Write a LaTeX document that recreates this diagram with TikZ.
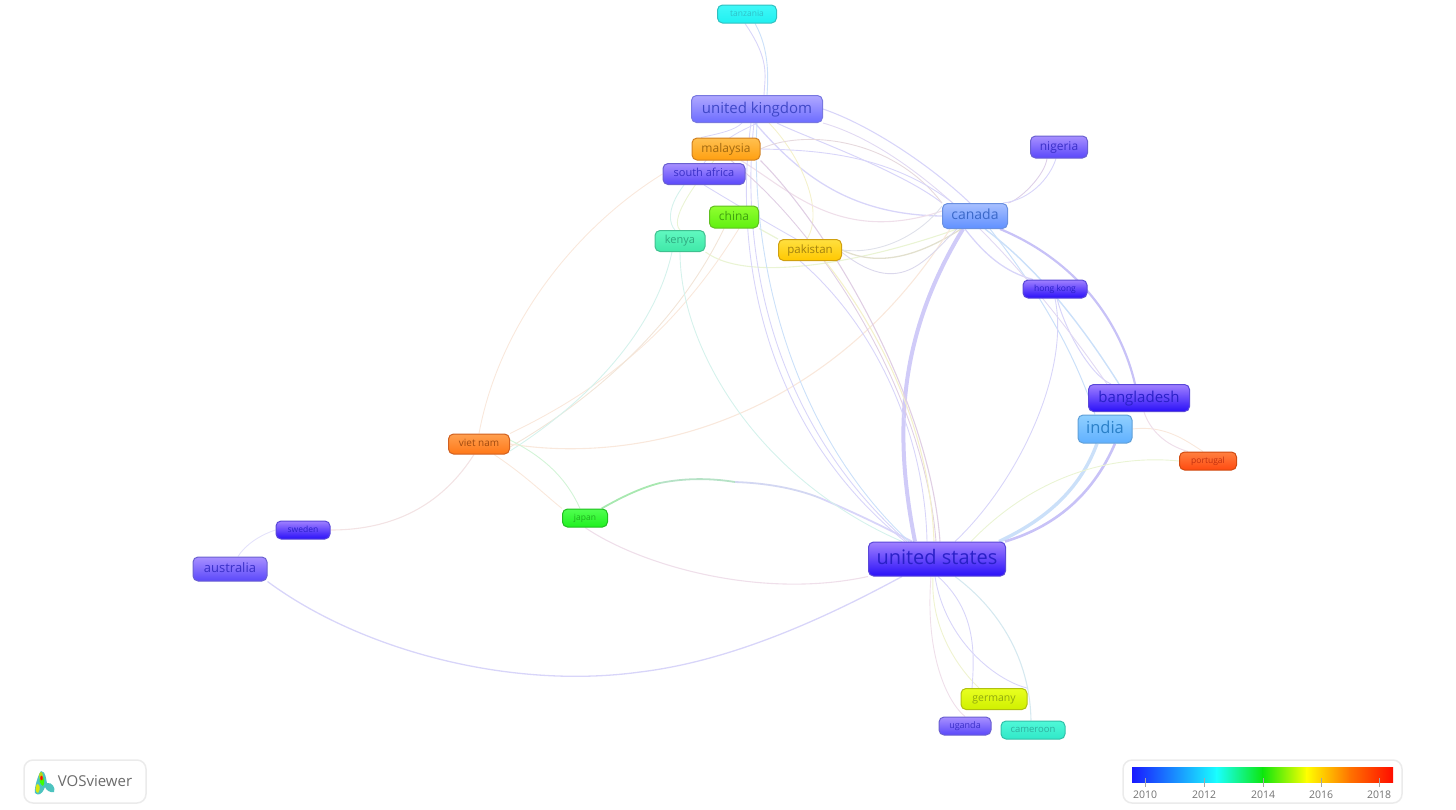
\documentclass[tikz,border=0pt]{standalone}
\usepackage{fontspec}
\setmainfont{Open Sans}
\usetikzlibrary{backgrounds,calc}
\newcommand{\vfamdef}[5]{%
  \definecolor{#1T}{HTML}{#2}\definecolor{#1B}{HTML}{#3}\definecolor{#1D}{HTML}{#4}\definecolor{#1X}{HTML}{#5}}
\vfamdef{deep}{A080FF}{2A10F8}{5A48D8}{2A20C8}
\vfamdef{vio}{A890FF}{5A48FA}{6A60D0}{3A30C8}
\vfamdef{uk}{B0A8FF}{6C6CFF}{7878E0}{4048C8}
\vfamdef{can}{A8C0FF}{6090FF}{6A90E0}{3A68C8}
\vfamdef{ind}{90D0FF}{60B0FF}{60A0D8}{2A80C8}
\vfamdef{tan}{40F8F8}{20F0F0}{30C0C0}{30C0C8}
\vfamdef{cam}{50F8D8}{30E8C8}{30C0A8}{30B0A0}
\vfamdef{ken}{60F8C0}{40E8A8}{40C090}{30A880}
\vfamdef{chi}{90FF30}{60F010}{60C020}{40A010}
\vfamdef{jap}{50FF50}{20F020}{20C020}{20B020}
\vfamdef{ger}{E8FF20}{D0F000}{B0C010}{90A810}
\vfamdef{pak}{FFE040}{FFC800}{D0A010}{A08010}
\vfamdef{mal}{FFC050}{FF9F10}{D08020}{A06810}
\vfamdef{vie}{FFA050}{FF7818}{D06020}{A04A10}
\vfamdef{por}{FF8040}{FF4A10}{D04A10}{C03010}
\definecolor{lil}{HTML}{D8D5F9}
\definecolor{lilb}{HTML}{C8C2F7}
\definecolor{lblue}{HTML}{CBE0F9}
\definecolor{pinkl}{HTML}{EFDFEA}
\definecolor{peach}{HTML}{F9E8DC}
\definecolor{teall}{HTML}{D5F2EC}
\definecolor{yell}{HTML}{F4F1CC}
\definecolor{gyell}{HTML}{EAF4D4}
\definecolor{olive}{HTML}{E2E0CE}
\definecolor{mauve}{HTML}{E0CFE4}
\definecolor{grnl}{HTML}{A8E8B0}
\tikzset{
  vbox/.style={rounded corners=5pt,inner sep=0pt,line width=1pt},
  lnk/.style={line width=0.9pt,lil},
  lnkm/.style={line width=1.3pt,lil},
  lnkw/.style={line width=2.4pt,lilb},
  legendbox/.style={draw=black!8,line width=1.5pt,rounded corners=9pt,fill=white},
  ticklabel/.style={text=black!55,font=\fontsize{10.5}{12}\selectfont,inner sep=0pt},
  tickmark/.style={draw=black!35,line width=0.6pt}
}
\newcommand{\vnode}[8]{% name x y w h size family label
  \node[vbox,minimum width=#4pt,minimum height=#5pt,top color=#7T,bottom color=#7B,draw=#7D,text=#7X,
        text height=#6*0.74pt,text depth=#6*0.2pt,
        font=\fontsize{#6}{#6}\selectfont] (#1) at (#2,#3) {#8};}
\begin{document}
\begin{tikzpicture}[x=1pt,y=-1pt]
\useasboundingbox (0,0) rectangle (1456,809);
% nodes
\vnode{tz}{747}{14}{59}{18}{8.5}{tan}{tanzania}
\vnode{uk}{757}{109}{131}{27}{15}{uk}{united kingdom}
\vnode{my}{726}{149}{68}{22}{12}{mal}{malaysia}
\vnode{za}{704}{174}{82}{21}{11}{vio}{south africa}
\vnode{cn}{734}{217}{49}{22}{12}{chi}{china}
\vnode{ke}{680}{241}{50}{21}{11}{ken}{kenya}
\vnode{pk}{810}{250}{63}{21}{11.5}{pak}{pakistan}
\vnode{ng}{1059}{147}{57}{22}{12}{vio}{nigeria}
\vnode{ca}{975}{216}{65}{25}{14}{can}{canada}
\vnode{hk}{1055}{289}{64}{18}{8.5}{deep}{hong kong}
\vnode{bd}{1139}{398}{101}{27}{15}{deep}{bangladesh}
\vnode{in}{1105}{429}{54}{28}{16.5}{ind}{india}
\vnode{pt}{1208}{461}{57}{18}{8.5}{por}{portugal}
\vnode{vn}{479}{444}{61}{20}{10}{vie}{viet nam}
\vnode{jp}{585}{518}{45}{18}{8.5}{jap}{japan}
\vnode{se}{303}{530}{54}{18}{8.5}{deep}{sweden}
\vnode{au}{230}{569}{74}{24}{13}{vio}{australia}
\vnode{us}{937}{559}{137}{34}{20}{deep}{united states}
\vnode{de}{994}{699}{66}{21}{10.5}{ger}{germany}
\vnode{ug}{965}{726}{52}{18}{9}{vio}{uganda}
\vnode{cm}{1033}{730}{64}{18}{9.5}{cam}{cameroon}
\coordinate (jm1) at (660,483);
\coordinate (jm2) at (735,482);
\coordinate (jm3) at (820,498);
\coordinate (aumid) at (640,672);
\begin{pgfonlayer}{background}
% thick bundles
\draw[lnkw,line width=4pt,lilb!85] ([xshift=-22pt]us.north) .. controls (895,440) and (895,340) .. ([xshift=-12pt]ca.south);
\draw[lnkw,lblue,line width=3.4pt] ([xshift=62pt]us.north) .. controls (1045,520) and (1080,490) .. ([xshift=-8pt]in.south);
\draw[lnkw,line width=2.6pt] ([xshift=68pt]us.north) .. controls (1060,525) and (1095,490) .. ([xshift=10pt]in.south);
\draw[lnkw,line width=2.2pt] ([xshift=25pt]ca.south) .. controls (1075,260) and (1120,320) .. ([xshift=-4pt]bd.north);
\draw[lnk,line width=1.4pt,lblue] ([xshift=10pt]ca.south) .. controls (1040,270) and (1085,330) .. ([xshift=-20pt]bd.north);
\draw[lnk,lblue,line width=1pt] ([xshift=15pt]ca.south) .. controls (1030,280) and (1070,340) .. ([xshift=-10pt]in.north);
\draw[lnkm] ([xshift=-10pt]ca.south) .. controls (985,255) and (1005,272) .. ([xshift=-22pt]hk.north);
% japan gradient
\draw[lnkm,line width=1.8pt,grnl] (jp) .. controls (620,498) and (640,488) .. (jm1);
\draw[lnkm,line width=1.8pt,grnl!70!lil] (jm1) .. controls (685,478) and (710,478) .. (jm2);
\draw[lnkm,line width=1.8pt,lil!90!grnl] (jm2) .. controls (765,483) and (795,488) .. (jm3);
\draw[lnkm,line width=1.8pt,lil] (jm3) .. controls (860,515) and (890,530) .. ([xshift=-25pt]us.north);
\draw[lnk,pinkl,line width=1.1pt] (jp.south) .. controls (640,565) and (760,600) .. (us.south west);
% nigeria
\draw[lnk,mauve!80!lil] (ca.north east) .. controls (1020,200) and (1045,175) .. ([xshift=-12pt]ng.south);
\draw[lnk] ([xshift=28pt]ca.north) .. controls (1030,200) and (1050,178) .. ([xshift=-3pt]ng.south);
% hong kong
\draw[lnk] ([xshift=0pt]hk.south) .. controls (1070,370) and (1020,480) .. ([xshift=18pt]us.north);
\draw[lnk,line width=1pt] ([xshift=2pt]hk.south) .. controls (1065,330) and (1090,375) .. ([xshift=-28pt]bd.north);
\draw[lnk,lil!60!pinkl] (uk.south east) .. controls (900,145) and (1000,230) .. ([xshift=-32pt]bd.north);
% uk
\draw[lnk,line width=1.1pt] (uk.east) .. controls (870,125) and (930,165) .. ([xshift=-5pt]ca.north);
\draw[lnkm] ([xshift=-2pt]uk.south) .. controls (800,175) and (850,215) .. (ca.west);
\draw[lnkm,line width=1pt] ([xshift=20pt]uk.south) .. controls (800,135) and (900,170) .. (ca.north west);
\draw[lnk,yell] ([xshift=12pt]uk.south) .. controls (800,155) and (825,210) .. ([xshift=-3pt]pk.north);
\draw[lnk,mauve!70!yell] (my.east) .. controls (800,130) and (890,135) .. (ca.north west);
\draw[lnk,lil] (my.east) .. controls (820,150) and (890,155) .. ([xshift=-22pt]ca.north);
\draw[lnk,pinkl,line width=1.1pt] ([xshift=15pt]my.south) .. controls (790,190) and (840,245) .. ([yshift=5pt]ca.west);
\draw[lnk,line width=0.8pt,lil] (uk.south) .. controls (745,130) and (725,135) .. (za.north);
\draw[lnk,line width=0.8pt,lil] ([xshift=-15pt]uk.south) .. controls (735,130) and (722,133) .. ([xshift=-25pt]my.north);
% canada side
\draw[lnk,gyell,line width=1.1pt] (ke.south east) .. controls (750,285) and (870,260) .. ([xshift=-18pt]ca.south);
\draw[lnk,olive,line width=1.3pt] (pk.east) .. controls (880,268) and (920,255) .. ([xshift=-14pt]ca.south);
\draw[lnk,lil!60!gyell] (pk.east) .. controls (880,255) and (920,235) .. ([yshift=10pt]ca.west);
\draw[lnk,gyell,line width=1.2pt] (cn.south east) -- (pk.north west);
% viet nam
\draw[lnk,peach] (vn.north) .. controls (500,320) and (580,225) .. (za.west);
\draw[lnk,peach] (vn.north east) .. controls (590,395) and (670,340) .. ([xshift=5pt]cn.south);
\draw[lnk,peach!70!olive] ([yshift=-3pt]vn.east) .. controls (600,395) and (680,320) .. ([xshift=-10pt]cn.south);
\draw[lnk,teall] ([yshift=-7pt]vn.east) .. controls (590,400) and (655,330) .. ([xshift=-8pt]ke.south);
\draw[lnk,peach,line width=1.1pt] (vn.east) .. controls (640,465) and (830,420) .. ([xshift=-25pt]ca.south);
\draw[lnk,grnl!50] ([yshift=4pt]vn.east) .. controls (540,455) and (565,475) .. ([xshift=-5pt]jp.north);
\draw[lnk,peach] ([xshift=15pt]vn.south) .. controls (525,475) and (545,495) .. (jp.north west);
\draw[lnk,pinkl!60!peach,line width=1.1pt] ([xshift=-5pt]vn.south) .. controls (445,500) and (400,530) .. (se.east);
\draw[lnk,lil!70] (se.west) .. controls (260,535) and (245,545) .. ([xshift=8pt]au.north);
\draw[lnkm] (au.south east) .. controls (360,650) and (510,690) .. (aumid);
\draw[lnkm] (aumid) .. controls (740,660) and (840,610) .. ([xshift=-35pt]us.south);
% down to us
\draw[lnk,teall] (ke.south) .. controls (680,350) and (760,480) .. ([xshift=-35pt]us.north);
\draw[lnk,teall] ([xshift=-20pt]za.south) .. controls (665,210) and (670,225) .. ([xshift=-5pt]ke.north);
\draw[lnk,gyell] ([xshift=-12pt]my.south) .. controls (690,190) and (670,220) .. (ke.north);
\draw[lnk,lil] (za.south) .. controls (745,210) and (830,260) .. ([xshift=30pt]pk.south);
\draw[lnk,lil] ([xshift=-3pt]uk.south) .. controls (740,250) and (770,420) .. ([xshift=-30pt]us.north);
\draw[lnk,lblue] (uk.south) .. controls (750,260) and (790,430) .. ([xshift=-28pt]us.north);
\draw[lnk,lil] ([xshift=-6pt]uk.south) .. controls (735,240) and (755,420) .. ([xshift=-32pt]us.north);
\draw[lnk,mauve,line width=1.1pt] (my.south east) .. controls (830,230) and (930,400) .. ([xshift=3pt]us.north);
\draw[lnk,mauve] ([xshift=5pt]my.south) .. controls (830,240) and (925,400) .. ([xshift=-1pt]us.north);
\draw[lnk,yell,line width=1.1pt] ([xshift=15pt]pk.south) .. controls (880,330) and (930,430) .. ([xshift=-3pt]us.north);
\draw[lnk,lil] ([xshift=-10pt]pk.south) .. controls (880,330) and (925,440) .. ([xshift=-10pt]us.north);
\draw[lnk,lil!70!olive] ([xshift=-18pt]ca.south) .. controls (925,260) and (900,300) .. ([xshift=-3pt]pk.east);
% us lower fan
\draw[lnk,gyell] ([xshift=34pt]us.north) .. controls (1040,470) and (1120,455) .. (pt.west);
\draw[lnk,peach] (in.east) .. controls (1165,425) and (1185,440) .. ([xshift=-5pt]pt.north);
\draw[lnk,pinkl,line width=1pt] ([xshift=5pt]bd.south) .. controls (1150,430) and (1165,445) .. ([xshift=-20pt]pt.north);
\draw[lnk,gyell!50!yell] ([xshift=-4pt]us.south) .. controls (930,630) and (960,670) .. ([xshift=-15pt]de.north);
\draw[lnk] ([xshift=1pt]us.south) .. controls (975,610) and (975,650) .. ([xshift=-22pt]de.north);
\draw[lnk] ([xshift=-2pt]us.south) .. controls (945,640) and (995,680) .. ([xshift=33pt]de.north);
\draw[lnk,pinkl] ([xshift=-6pt]us.south) .. controls (925,650) and (945,700) .. (ug.north);
\draw[lnk,teall!70!lil,line width=1.1pt] ([xshift=18pt]us.south) .. controls (1000,610) and (1030,660) .. ([xshift=-2pt]cm.north);
% tanzania
\draw[lnk,lil] ([xshift=-2pt]tz.south) .. controls (770,60) and (765,75) .. ([xshift=7pt]uk.north);
\draw[lnk,lblue] ([xshift=8pt]tz.south) .. controls (770,50) and (768,80) .. ([xshift=10pt]uk.north);
\end{pgfonlayer}
% logo
\node[legendbox,minimum width=122pt,minimum height=43pt,inner sep=0pt] (logobox) at (85,781.5) {};
\fill[cyan!60!green!70] (41,771) .. controls (46,771) and (46,780) .. (47,783) .. controls (52,782) and (56,788) .. (54,792) .. controls (50,793) and (46,790) .. (45,787) .. controls (42,795) and (38,796) .. (35,793) .. controls (34,788) and (38,775) .. (41,771) -- cycle;
\fill[green!75!yellow] (41,775) .. controls (45,777) and (45,784) .. (43,786) .. controls (40,784) and (38,781) .. (41,775) -- cycle;
\fill[yellow!85!green] (37,784) .. controls (40,784) and (41,789) .. (38,793) .. controls (35,792) and (35,787) .. (37,784) -- cycle;
\fill[yellow!70!green] (41,776) ellipse (2pt and 4pt);
\fill[red!90!orange] (41.5,778) ellipse (1.3pt and 2.3pt);
\node[inner sep=0pt,text=black!58,font=\fontsize{15}{15}\selectfont] (logotext) at (95,781.5) {VOSviewer};
% colour bar
\node[legendbox,minimum width=279pt,minimum height=43pt,inner sep=0pt] (barbox) at (1262.5,781.5) {};
\shade[left color=blue!90!white,right color=cyan!90!white] (1132,767) rectangle (1217,782);
\shade[left color=cyan!90!white,right color=green!90!black!95!white] (1216.5,767) rectangle (1263,782);
\shade[left color=green!90!black!95!white,right color=yellow] (1262.5,767) rectangle (1307,782);
\shade[left color=yellow,right color=orange!90!red] (1306.5,767) rectangle (1350,782);
\shade[left color=orange!90!red,right color=red!90!orange] (1349.5,767) rectangle (1393,782);
\foreach \x/\t in {1145/2010,1204/2012,1263/2014,1321/2016,1379/2018}{
  \draw[tickmark] (\x,778) -- (\x,787);
  \node[ticklabel] (tick\t) at (\x,795) {\t};
}
\end{tikzpicture}
\end{document}
